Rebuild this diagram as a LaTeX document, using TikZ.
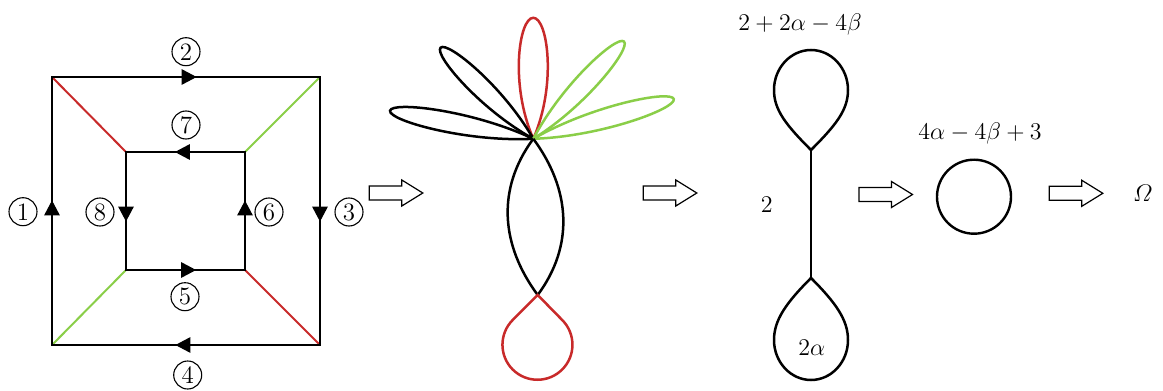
\documentclass[tikz,border=0pt]{standalone}
\usepackage{amsmath}
\usetikzlibrary{arrows.meta,decorations.markings}
\definecolor{pred}{RGB}{200,42,42}
\definecolor{pgreen}{RGB}{138,206,72}
\newcommand\petalshape[4]{%
  \begin{scope}[shift={(F)},rotate=#2]
    \draw[flw,#1] (0,0) .. controls (0.45*#3,1.64*#4) and (#3,0.986*#4) .. (#3,0)
      .. controls (#3,-0.986*#4) and (0.45*#3,-1.64*#4) .. (0,0);
  \end{scope}}
\begin{document}
\begin{tikzpicture}[x=0.5pt,y=0.5pt,
  edge/.style={line width=1.35pt},
  diag/.style={line width=1pt},
  flw/.style={line width=1.25pt},
  arrowmid/.style={postaction={decorate},decoration={markings,
     mark=at position #1 with {\arrow{Triangle[length=7.5pt,width=7.5pt]}}}},
  cnum/.style={circle,draw,line width=0.55pt,minimum size=14pt,inner sep=0pt,font=\fontsize{12.5}{12.5}\selectfont},
  lbl/.style={font=\fontsize{12}{12}\selectfont,inner sep=0pt},
  hollow/.style={line width=0.6pt}
]
\useasboundingbox (0,0) rectangle (1163,-391);
% ---------- square ----------
\coordinate (o1) at (52,-77);
\coordinate (o2) at (320,-77);
\coordinate (o3) at (320,-345);
\coordinate (o4) at (52,-345);
\coordinate (i1) at (126,-152);
\coordinate (i2) at (245,-152);
\coordinate (i3) at (245,-270);
\coordinate (i4) at (126,-270);
\draw[diag,pred] (o1) -- (i1);
\draw[diag,pgreen] (o2) -- (i2);
\draw[diag,pred] (o3) -- (i3);
\draw[diag,pgreen] (o4) -- (i4);
\draw[edge,arrowmid=0.54] (o1) -- (o2);
\draw[edge,arrowmid=0.54] (o2) -- (o3);
\draw[edge,arrowmid=0.54] (o3) -- (o4);
\draw[edge,arrowmid=0.54] (o4) -- (o1);
\draw[edge,arrowmid=0.59] (i2) -- (i1);
\draw[edge,arrowmid=0.59] (i1) -- (i4);
\draw[edge,arrowmid=0.59] (i4) -- (i3);
\draw[edge,arrowmid=0.59] (i3) -- (i2);
\draw[edge] (o1) -- (o2) -- (o3) -- (o4) -- cycle;
\draw[edge] (i1) -- (i2) -- (i3) -- (i4) -- cycle;
\node[cnum] (n1) at (23,-211.7) {1};
\node[cnum] (n2) at (186,-51.7) {2};
\node[cnum] (n3) at (349,-212) {3};
\node[cnum] (n4) at (187.7,-375) {4};
\node[cnum] (n5) at (185,-296.7) {5};
\node[cnum] (n6) at (269,-212) {6};
\node[cnum] (n7) at (186,-125) {7};
\node[cnum] (n8) at (100,-212) {8};
% ---------- hollow arrows ----------
\foreach \ax/\ay in {369.3/193, 643.3/193, 859/194.5, 1049.3/193.3}{
  \draw[hollow] (\ax,-\ay) ++(0,7) -- ++(32.5,0) -- ++(0,6) -- ++(21,-13) -- ++(-21,-13) -- ++(0,6) -- ++(-32.5,0) -- cycle;
}
% ---------- flower ----------
\coordinate (F) at (533.3,-138.8);
\coordinate (G) at (537.7,-295);
\petalshape{pred}{90}{121}{14.5}
\petalshape{black}{135.5}{130}{10}
\petalshape{black}{168.9}{146}{10}
\petalshape{pgreen}{47}{133}{10}
\petalshape{pgreen}{15.8}{146}{10}
\draw[flw] (F) .. controls +(-37,-50) and +(-37,50) .. (G);
\draw[flw] (F) .. controls +(37,-50) and +(37,50) .. (G);
\draw[flw,pred] (G) -- ++(-25,-25) arc[start angle=135,end angle=405,radius=35] -- cycle;
% ---------- dumbbell ----------
\coordinate (U) at (811,-150);
\coordinate (D) at (811,-278);
\coordinate (UL) at (774,-90);
\coordinate (UT) at (811,-50);
\coordinate (UR) at (848,-90);
\coordinate (DL) at (774,-340);
\coordinate (DB) at (811,-380);
\coordinate (DR) at (848,-340);
\draw[flw] (U) .. controls +(-25,25) and +(0,-20) .. (UL)
  .. controls +(0,22) and +(-20.4,0) .. (UT)
  .. controls +(20.4,0) and +(0,22) .. (UR)
  .. controls +(0,-20) and +(25,25) .. (U) -- cycle;
\draw[flw] (D) .. controls +(-25,-25) and +(0,20) .. (DL)
  .. controls +(0,-22) and +(-20.4,0) .. (DB)
  .. controls +(20.4,0) and +(0,-22) .. (DR)
  .. controls +(0,20) and +(25,-25) .. (D) -- cycle;
\draw[flw] (U) -- (D);
\node[lbl] (t1) at (800,-25) {$2+2\alpha-4\beta$};
\node[lbl] (t2) at (766.7,-205) {$2$};
\node[lbl] (t3) at (811.7,-348) {$2\alpha$};
% ---------- circle ----------
\node[circle,draw,line width=1.2pt,minimum size=37pt,inner sep=0pt] (C) at (974,-196.7) {};
\node[lbl] (t4) at (980,-133) {$4\alpha-4\beta+3$};
\node[lbl] (om) at (1142.7,-193) {$\varOmega$};
\end{tikzpicture}
\end{document}
